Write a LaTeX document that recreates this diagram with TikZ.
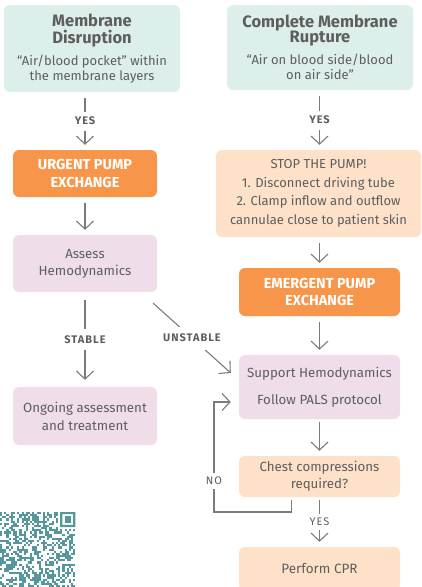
\documentclass[tikz,border=0pt]{standalone}
\usepackage{fontspec}
\setmainfont{Fira Sans}
\newfontfamily\answerfont[LetterSpace=9]{Fira Sans}
\usepackage{tikz}
\usetikzlibrary{arrows.meta,positioning}

\definecolor{probteal}{HTML}{DCEFEB}
\definecolor{pumporange}{HTML}{F7964A}
\definecolor{checkpink}{HTML}{EFDEEA}
\definecolor{actionpeach}{HTML}{FDE1C8}
\definecolor{txtgray}{HTML}{5E5E5E}
\definecolor{linegray}{HTML}{7B7B7B}
\definecolor{qrteal}{HTML}{55979A}

\newcommand\probtitle{\bfseries\fontsize{16.5}{20}\selectfont}

\begin{document}
\begin{tikzpicture}[
    x=1pt, y=-1pt,
    every node/.style={
        align=center,
        inner sep=0pt,
        text=txtgray,
        font=\fontsize{13}{15.5}\selectfont
    },
    card/.style={rounded corners=6pt},
    problembox/.style={card, fill=probteal},
    pumpbox/.style={card, fill=pumporange, text=white,
        font=\bfseries\fontsize{14.5}{17.5}\selectfont},
    pinkbox/.style={card, fill=checkpink, font=\fontsize{13.3}{17}\selectfont},
    peachbox/.style={card, fill=actionpeach, font=\fontsize{13}{18.5}\selectfont},
    flow/.style={draw=linegray, line width=1.1pt,
        -{Straight Barb[length=8pt,width=17pt]},
        shorten <=6pt, shorten >=5pt},
    answer/.style={fill=white, inner xsep=3pt, inner ysep=5.5pt,
        font=\answerfont\bfseries\fontsize{11}{12}\selectfont}
]
\clip (0,0) rectangle (422,587);

% the two kinds of oxygenator failure
\node[problembox, minimum width=176pt, minimum height=87pt] (disrupt) at (92,48.5)
    {{\probtitle Membrane}\\[2pt]{\probtitle Disruption}\\[6pt]“Air/blood pocket” within\\the membrane layers};
\node[problembox, minimum width=186pt, minimum height=85pt] (rupture) at (320,47.5)
    {{\probtitle Complete Membrane}\\{\probtitle Rupture}\\[6pt]“Air on blood side/blood\\on air side”};

% left column
\node[pumpbox, minimum width=144pt, minimum height=47pt] (urgent) at (85,173.5)
    {URGENT PUMP\\EXCHANGE};
\node[pinkbox, minimum width=144pt, minimum height=57pt] (assess) at (85,263.5)
    {Assess\\Hemodynamics};
\node[pinkbox, minimum width=144pt, minimum height=58pt, font=\fontsize{13.3}{18}\selectfont] (ongoing) at (85,416)
    {Ongoing assessment\\and treatment};

% right column
\node[peachbox, minimum width=205pt, minimum height=87pt] (stoppump) at (318.5,193.5)
    {STOP THE PUMP!\\1. Disconnect driving tube\\2. Clamp inflow and outflow\\cannulae close to patient skin};
\node[pumpbox, minimum width=161pt, minimum height=48pt] (emergent) at (319.5,292)
    {EMERGENT PUMP\\EXCHANGE};
\node[pinkbox, minimum width=161pt, minimum height=64pt] (support) at (319.5,387)
    {Support Hemodynamics\\[10pt]Follow PALS protocol};
\node[peachbox, minimum width=161pt, minimum height=41pt, font=\fontsize{13.3}{17}\selectfont] (chest) at (319.5,476.5)
    {Chest compressions\\required?};
\node[peachbox, minimum width=161pt, minimum height=44pt, font=\fontsize{13.5}{17}\selectfont] (cpr) at (319.5,569)
    {Perform CPR};

% connectors
\draw[flow] (disrupt.south -| urgent.north) -- node[answer]{YES} (urgent.north);
\draw[flow] (rupture.south -| emergent.north) -- node[answer]{YES} (stoppump.north -| emergent.north);
\draw[flow] (urgent.south) -- (assess.north);
\draw[flow] (stoppump.south -| emergent.north) -- (emergent.north);
\draw[flow] (emergent.south) -- (support.north);
\draw[flow, shorten <=8pt, shorten >=7pt] (assess.south) -- node[answer, inner ysep=6.5pt]{STABLE} (ongoing.north);
\draw[flow, shorten <=0pt, shorten >=0pt] ([xshift=-4pt,yshift=-11pt]assess.south east)
    -- node[answer, inner ysep=7.5pt]{UNSTABLE} ([xshift=-8pt,yshift=14pt]support.west);
\draw[flow, shorten <=3pt, shorten >=5pt] (support.south) -- (chest.north);
\draw[flow, shorten <=3pt, shorten >=5pt] (chest.south) -- node[answer, inner ysep=4pt, font=\answerfont\fontsize{11}{12}\selectfont]{YES} (cpr.north);
\coordinate (noturn) at (214,512);
\draw[flow, shorten <=3pt, shorten >=8pt] ([xshift=-28pt]chest.south) |- (noturn)
    |- node[answer, pos=0.14, inner ysep=4pt, font=\answerfont\fontsize{11}{12}\selectfont]{NO} ([yshift=-15pt]support.west);

% qr code in the corner
\pgfmathsetseed{11}
\foreach \i in {0,...,34}
  \foreach \j in {0,...,34} {
    \pgfmathtruncatemacro\qrbit{rnd>0.5}
    \pgfmathtruncatemacro\qrskip{and(\i>26,\j<8)}
    \ifnum\qrskip=0
      \ifnum\qrbit=1
        \fill[qrteal] (\i*2.15,512+\j*2.15) rectangle ++(2.15,2.15);
      \fi
    \fi
  }
\fill[qrteal, even odd rule] (60.2,512) rectangle ++(15.05,15.05)
    (62.35,514.15) rectangle ++(10.75,10.75);
\fill[qrteal] (64.5,516.3) rectangle ++(6.45,6.45);
\end{tikzpicture}
\end{document}
